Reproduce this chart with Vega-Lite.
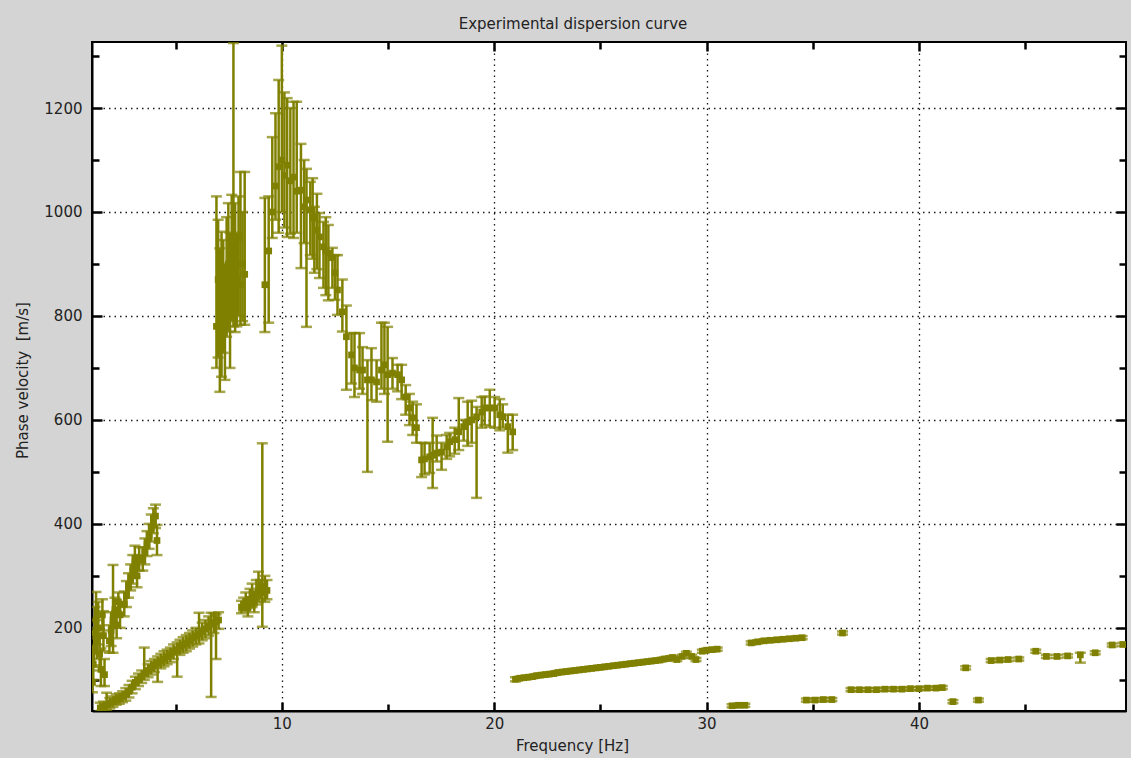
{
"$schema": "https://vega.github.io/schema/vega-lite/v6.json",
"width": 1034, "height": 669,
"autosize": {"type": "none"},
"padding": {"left": 92, "top": 42, "right": 5, "bottom": 47},
"background": "#d4d4d4",
"config": {"view": {"fill": "white", "stroke": "#000", "strokeWidth": 2}, "font": "DejaVu Sans"},
"title": {"text": "Experimental dispersion curve", "fontSize": 15, "fontWeight": "normal", "color": "#222", "offset": 9, "frame": "group", "anchor": "middle", "dx": -36},
"data": {"values": [
{"f":1.08,"v":95,"lo":76,"hi":125},{"f":1.12,"v":130,"lo":100,"hi":165},{"f":1.16,"v":160,"lo":128,"hi":200},{"f":1.2,"v":190,"lo":150,"hi":240},{"f":1.25,"v":215,"lo":180,"hi":269},{"f":1.3,"v":175,"lo":140,"hi":215},{"f":1.35,"v":200,"lo":168,"hi":250},{"f":1.42,"v":150,"lo":118,"hi":190},{"f":1.48,"v":120,"lo":88,"hi":160},{"f":1.55,"v":225,"lo":195,"hi":255},{"f":1.6,"v":185,"lo":155,"hi":232},{"f":1.65,"v":110,"lo":88,"hi":140},
{"f":1.88,"v":175,"lo":152,"hi":205},{"f":1.96,"v":195,"lo":165,"hi":230},{"f":2.05,"v":215,"lo":152,"hi":321},{"f":2.14,"v":235,"lo":210,"hi":258},{"f":2.22,"v":205,"lo":180,"hi":232},{"f":2.3,"v":250,"lo":228,"hi":268},{"f":2.38,"v":225,"lo":200,"hi":250},
{"f":2.58,"v":245,"lo":222,"hi":270},{"f":2.68,"v":262,"lo":240,"hi":290},{"f":2.78,"v":280,"lo":258,"hi":305},{"f":2.88,"v":295,"lo":272,"hi":322},{"f":2.98,"v":310,"lo":285,"hi":340},{"f":3.08,"v":322,"lo":298,"hi":358},{"f":3.18,"v":300,"lo":278,"hi":330},{"f":3.28,"v":335,"lo":310,"hi":355},
{"f":3.45,"v":330,"lo":310,"hi":355},{"f":3.55,"v":345,"lo":322,"hi":372},{"f":3.65,"v":360,"lo":338,"hi":386},{"f":3.75,"v":378,"lo":352,"hi":400},{"f":3.85,"v":392,"lo":366,"hi":418},{"f":3.95,"v":405,"lo":382,"hi":430},{"f":4.05,"v":415,"lo":392,"hi":437},{"f":4.12,"v":368,"lo":340,"hi":398},
{"f":1.45,"v":46,"lo":40,"hi":56},{"f":1.6,"v":48,"lo":40,"hi":58},{"f":1.75,"v":52,"lo":42,"hi":75},{"f":1.9,"v":55,"lo":45,"hi":65},{"f":2.05,"v":58,"lo":48,"hi":68},{"f":2.2,"v":62,"lo":52,"hi":72},{"f":2.35,"v":64,"lo":54,"hi":74},{"f":2.5,"v":68,"lo":57,"hi":78},{"f":2.65,"v":72,"lo":60,"hi":84},{"f":2.8,"v":78,"lo":66,"hi":90},{"f":2.95,"v":86,"lo":74,"hi":98},{"f":3.1,"v":95,"lo":82,"hi":106},{"f":3.25,"v":100,"lo":88,"hi":112},{"f":3.4,"v":106,"lo":94,"hi":118},{"f":3.52,"v":112,"lo":100,"hi":162},{"f":3.7,"v":118,"lo":105,"hi":130},{"f":3.85,"v":123,"lo":110,"hi":136},{"f":4.0,"v":128,"lo":115,"hi":140},{"f":4.15,"v":132,"lo":96,"hi":145},{"f":4.3,"v":136,"lo":122,"hi":150},{"f":4.45,"v":140,"lo":126,"hi":155},{"f":4.6,"v":144,"lo":130,"hi":158},{"f":4.75,"v":148,"lo":134,"hi":162},{"f":4.9,"v":154,"lo":140,"hi":168},{"f":5.07,"v":158,"lo":106,"hi":172},{"f":5.2,"v":163,"lo":148,"hi":177},{"f":5.35,"v":167,"lo":152,"hi":182},{"f":5.5,"v":170,"lo":155,"hi":186},{"f":5.65,"v":175,"lo":160,"hi":190},{"f":5.8,"v":180,"lo":164,"hi":195},{"f":5.95,"v":184,"lo":168,"hi":200},{"f":6.1,"v":188,"lo":170,"hi":229},{"f":6.25,"v":193,"lo":176,"hi":210},{"f":6.4,"v":198,"lo":180,"hi":215},{"f":6.55,"v":203,"lo":185,"hi":222},{"f":6.67,"v":207,"lo":67,"hi":229},{"f":6.8,"v":210,"lo":190,"hi":228},{"f":6.9,"v":212,"lo":140,"hi":226},{"f":7.02,"v":215,"lo":198,"hi":230},
{"f":6.92,"v":780,"lo":700,"hi":1030},{"f":7.0,"v":870,"lo":720,"hi":985},{"f":7.08,"v":750,"lo":654,"hi":930},{"f":7.16,"v":820,"lo":683,"hi":962},{"f":7.24,"v":860,"lo":729,"hi":946},{"f":7.32,"v":780,"lo":677,"hi":900},{"f":7.4,"v":880,"lo":760,"hi":990},{"f":7.48,"v":900,"lo":770,"hi":1017},{"f":7.56,"v":840,"lo":700,"hi":960},{"f":7.64,"v":940,"lo":790,"hi":1033},{"f":7.72,"v":860,"lo":780,"hi":1325},{"f":7.8,"v":920,"lo":769,"hi":1017},{"f":7.88,"v":870,"lo":780,"hi":960},{"f":7.96,"v":950,"lo":800,"hi":1030},{"f":8.05,"v":860,"lo":783,"hi":1077},{"f":8.15,"v":900,"lo":790,"hi":1000},{"f":8.25,"v":880,"lo":783,"hi":1077},
{"f":8.1,"v":240,"lo":228,"hi":252},{"f":8.2,"v":245,"lo":232,"hi":258},{"f":8.3,"v":250,"lo":235,"hi":268},{"f":8.4,"v":238,"lo":222,"hi":250},{"f":8.5,"v":255,"lo":238,"hi":275},{"f":8.6,"v":262,"lo":240,"hi":285},{"f":8.7,"v":248,"lo":230,"hi":270},{"f":8.8,"v":265,"lo":245,"hi":292},{"f":8.9,"v":270,"lo":250,"hi":308},{"f":9.0,"v":275,"lo":255,"hi":292},{"f":9.08,"v":280,"lo":202,"hi":555},{"f":9.2,"v":268,"lo":250,"hi":300},{"f":9.3,"v":272,"lo":255,"hi":292},
{"f":9.2,"v":860,"lo":769,"hi":1027},{"f":9.38,"v":925,"lo":787,"hi":1030},{"f":9.55,"v":1000,"lo":950,"hi":1144},{"f":9.7,"v":1050,"lo":985,"hi":1190},{"f":9.85,"v":1087,"lo":960,"hi":1254},{"f":10.0,"v":1100,"lo":1000,"hi":1320},{"f":10.12,"v":1070,"lo":970,"hi":1230},{"f":10.25,"v":1090,"lo":952,"hi":1219},{"f":10.4,"v":1060,"lo":958,"hi":1200},{"f":10.55,"v":1067,"lo":950,"hi":1212},{"f":10.7,"v":1040,"lo":960,"hi":1212},{"f":10.9,"v":1042,"lo":892,"hi":1131},{"f":11.05,"v":1010,"lo":940,"hi":1100},{"f":11.16,"v":1023,"lo":779,"hi":1083},{"f":11.34,"v":1004,"lo":917,"hi":1058},{"f":11.45,"v":990,"lo":910,"hi":1065},{"f":11.53,"v":988,"lo":883,"hi":1010},{"f":11.65,"v":965,"lo":890,"hi":1035},{"f":11.77,"v":952,"lo":873,"hi":998},{"f":11.96,"v":933,"lo":854,"hi":981},{"f":12.07,"v":925,"lo":840,"hi":990},{"f":12.19,"v":921,"lo":830,"hi":975},{"f":12.38,"v":912,"lo":854,"hi":931},{"f":12.5,"v":883,"lo":831,"hi":917},{"f":12.62,"v":850,"lo":802,"hi":917},{"f":12.85,"v":808,"lo":770,"hi":870},{"f":13.04,"v":760,"lo":658,"hi":820},{"f":13.28,"v":725,"lo":670,"hi":767},{"f":13.42,"v":700,"lo":644,"hi":767},{"f":13.66,"v":696,"lo":660,"hi":767},{"f":13.8,"v":696,"lo":650,"hi":740},{"f":14.03,"v":677,"lo":500,"hi":715},{"f":14.22,"v":677,"lo":638,"hi":738},{"f":14.46,"v":673,"lo":635,"hi":715},{"f":14.69,"v":696,"lo":660,"hi":787},{"f":14.83,"v":706,"lo":650,"hi":787},{"f":14.98,"v":687,"lo":558,"hi":779},{"f":15.21,"v":690,"lo":660,"hi":719},{"f":15.45,"v":687,"lo":655,"hi":706},{"f":15.64,"v":677,"lo":640,"hi":706},{"f":15.83,"v":644,"lo":610,"hi":667},{"f":16.01,"v":623,"lo":590,"hi":650},{"f":16.16,"v":604,"lo":571,"hi":635},{"f":16.34,"v":585,"lo":556,"hi":630},{"f":16.58,"v":523,"lo":490,"hi":556},{"f":16.72,"v":525,"lo":495,"hi":555},{"f":16.96,"v":529,"lo":498,"hi":556},{"f":17.1,"v":532,"lo":469,"hi":604},{"f":17.29,"v":536,"lo":520,"hi":570},{"f":17.52,"v":538,"lo":504,"hi":556},{"f":17.76,"v":548,"lo":525,"hi":571},{"f":17.9,"v":558,"lo":530,"hi":575},{"f":18.14,"v":562,"lo":535,"hi":585},{"f":18.33,"v":577,"lo":542,"hi":642},{"f":18.56,"v":587,"lo":560,"hi":600},{"f":18.75,"v":596,"lo":550,"hi":635},{"f":18.94,"v":600,"lo":556,"hi":637},{"f":19.17,"v":606,"lo":450,"hi":625},{"f":19.41,"v":615,"lo":585,"hi":644},{"f":19.55,"v":623,"lo":590,"hi":645},{"f":19.79,"v":623,"lo":587,"hi":658},{"f":20.02,"v":623,"lo":585,"hi":644},{"f":20.26,"v":610,"lo":580,"hi":640},{"f":20.4,"v":606,"lo":585,"hi":630},{"f":20.64,"v":587,"lo":537,"hi":610},{"f":20.87,"v":577,"lo":542,"hi":610},
{"f":21.0,"v":101,"lo":97,"hi":105},{"f":21.2,"v":103,"lo":100,"hi":106},{"f":21.4,"v":104,"lo":101,"hi":107},{"f":21.6,"v":105,"lo":102,"hi":108},{"f":21.8,"v":106,"lo":103,"hi":109},{"f":22.0,"v":108,"lo":105,"hi":111},{"f":22.2,"v":109,"lo":106,"hi":112},{"f":22.4,"v":110,"lo":107,"hi":113},{"f":22.6,"v":111,"lo":108,"hi":114},{"f":22.8,"v":112,"lo":109,"hi":115},{"f":23.0,"v":114,"lo":111,"hi":117},{"f":23.2,"v":115,"lo":112,"hi":118},{"f":23.4,"v":116,"lo":113,"hi":119},{"f":23.6,"v":117,"lo":114,"hi":120},{"f":23.8,"v":118,"lo":115,"hi":121},{"f":24.0,"v":119,"lo":116,"hi":122},{"f":24.2,"v":120,"lo":117,"hi":123},{"f":24.4,"v":121,"lo":118,"hi":124},{"f":24.6,"v":122,"lo":119,"hi":125},{"f":24.8,"v":123,"lo":120,"hi":126},{"f":25.0,"v":124,"lo":121,"hi":127},{"f":25.2,"v":125,"lo":122,"hi":128},{"f":25.4,"v":126,"lo":123,"hi":129},{"f":25.6,"v":127,"lo":124,"hi":130},{"f":25.8,"v":128,"lo":125,"hi":131},{"f":26.0,"v":129,"lo":126,"hi":132},{"f":26.2,"v":130,"lo":127,"hi":133},{"f":26.4,"v":131,"lo":128,"hi":134},{"f":26.6,"v":132,"lo":129,"hi":135},{"f":26.8,"v":133,"lo":130,"hi":136},{"f":27.0,"v":134,"lo":131,"hi":137},{"f":27.2,"v":135,"lo":132,"hi":138},{"f":27.4,"v":136,"lo":133,"hi":139},{"f":27.6,"v":137,"lo":134,"hi":140},{"f":27.8,"v":138,"lo":135,"hi":141},{"f":28.0,"v":140,"lo":137,"hi":143},{"f":28.2,"v":141,"lo":138,"hi":144},{"f":28.4,"v":143,"lo":140,"hi":146},
{"f":28.6,"v":139,"lo":136,"hi":142},{"f":28.85,"v":145,"lo":142,"hi":148},{"f":29.05,"v":151,"lo":148,"hi":154},{"f":29.3,"v":145,"lo":142,"hi":148},{"f":29.5,"v":139,"lo":136,"hi":142},{"f":29.8,"v":155,"lo":152,"hi":158},{"f":30.0,"v":157,"lo":154,"hi":160},{"f":30.25,"v":158,"lo":155,"hi":161},{"f":30.5,"v":159,"lo":156,"hi":162},
{"f":31.2,"v":50,"lo":47,"hi":53},{"f":31.5,"v":51,"lo":48,"hi":54},{"f":31.8,"v":51,"lo":48,"hi":54},
{"f":32.1,"v":171,"lo":168,"hi":174},{"f":32.4,"v":173,"lo":170,"hi":176},{"f":32.7,"v":175,"lo":172,"hi":178},{"f":33.0,"v":176,"lo":173,"hi":179},{"f":33.3,"v":177,"lo":174,"hi":180},{"f":33.6,"v":178,"lo":175,"hi":181},{"f":33.9,"v":179,"lo":176,"hi":182},{"f":34.2,"v":180,"lo":177,"hi":183},{"f":34.5,"v":181,"lo":178,"hi":184},
{"f":34.7,"v":61,"lo":58,"hi":64},{"f":35.1,"v":61,"lo":58,"hi":64},{"f":35.5,"v":62,"lo":59,"hi":65},{"f":35.9,"v":62,"lo":59,"hi":65},
{"f":36.4,"v":190,"lo":187,"hi":193},
{"f":36.8,"v":81,"lo":78,"hi":84},{"f":37.2,"v":81,"lo":78,"hi":84},{"f":37.6,"v":81,"lo":78,"hi":84},{"f":38.0,"v":81,"lo":78,"hi":84},{"f":38.4,"v":82,"lo":79,"hi":85},{"f":38.8,"v":82,"lo":79,"hi":85},{"f":39.2,"v":82,"lo":79,"hi":85},{"f":39.6,"v":83,"lo":80,"hi":86},{"f":40.0,"v":83,"lo":80,"hi":86},{"f":40.4,"v":84,"lo":81,"hi":87},{"f":40.8,"v":84,"lo":81,"hi":87},{"f":41.1,"v":85,"lo":82,"hi":88},
{"f":41.6,"v":58,"lo":55,"hi":61},{"f":42.2,"v":123,"lo":120,"hi":126},{"f":42.8,"v":61,"lo":58,"hi":64},
{"f":43.4,"v":137,"lo":134,"hi":140},{"f":43.8,"v":138,"lo":135,"hi":141},{"f":44.2,"v":139,"lo":136,"hi":142},{"f":44.7,"v":140,"lo":137,"hi":143},{"f":45.5,"v":155,"lo":152,"hi":158},{"f":46.0,"v":145,"lo":142,"hi":148},{"f":46.5,"v":145,"lo":142,"hi":148},{"f":47.0,"v":146,"lo":143,"hi":149},{"f":47.6,"v":148,"lo":133,"hi":152},{"f":48.3,"v":152,"lo":149,"hi":155},{"f":49.1,"v":167,"lo":164,"hi":170},{"f":49.6,"v":168,"lo":165,"hi":171}
]},
"layer": [
{"mark": {"type": "rule", "color": "#808000", "strokeWidth": 2.5, "clip": true},
 "encoding": {
  "x": {"field": "f", "type": "quantitative", "scale": {"domain": [1.06, 49.75], "nice": false, "zero": false},
   "axis": {"orient": "bottom", "values": [5,10,15,20,25,30,35,40,45], "labelExpr": "datum.value % 10 === 0 ? datum.label : ''",
    "grid": true, "gridDash": [1.5, 4], "gridColor": "#000", "gridWidth": 1.3,
    "gridOpacity": {"condition": {"test": "datum.value % 10 === 0", "value": 0.9}, "value": 0},
    "tickSize": {"condition": {"test": "datum.value % 10 === 0", "value": -9}, "value": -7},
    "tickWidth": 2.5, "tickColor": "#000", "domainColor": "#000", "domainWidth": 2,
    "labelPadding": 14, "labelFontSize": 15, "labelColor": "#222",
    "title": "Frequency [Hz]", "titleFontSize": 15, "titleFontWeight": "normal", "titleColor": "#222",
    "titleX": 480, "titleY": 27, "titleBaseline": "top", "titleAlign": "center"}},
  "y": {"field": "lo", "type": "quantitative", "scale": {"domain": [40, 1327], "nice": false, "zero": false},
   "axis": {"orient": "left", "values": [100,200,300,400,500,600,700,800,900,1000,1100,1200,1300], "labelExpr": "datum.value % 200 === 0 ? datum.label : ''",
    "format": "d",
    "grid": true, "gridDash": [1.5, 4], "gridColor": "#000", "gridWidth": 1.3,
    "gridOpacity": {"condition": {"test": "datum.value % 200 === 0", "value": 0.9}, "value": 0},
    "tickSize": {"condition": {"test": "datum.value % 200 === 0", "value": -10}, "value": -7},
    "tickWidth": 2.5, "tickColor": "#000", "domainColor": "#000", "domainWidth": 2,
    "labelPadding": 20, "labelFontSize": 15, "labelColor": "#222",
    "title": "Phase velocity\u00a0 [m/s]", "titleFontSize": 15, "titleFontWeight": "normal", "titleColor": "#222",
    "titleX": -70, "titleY": 338, "titleAngle": -90, "titleAlign": "center", "titleBaseline": "middle"}},
  "y2": {"field": "hi"}}},
{"mark": {"type": "tick", "orient": "horizontal", "color": "#808000", "thickness": 2.5, "size": 11, "clip": true},
 "encoding": {
  "x": {"field": "f", "type": "quantitative", "scale": {"domain": [1.06, 49.75], "nice": false, "zero": false}, "axis": null},
  "y": {"field": "lo", "type": "quantitative", "scale": {"domain": [40, 1327], "nice": false, "zero": false}, "axis": null}}},
{"mark": {"type": "tick", "orient": "horizontal", "color": "#808000", "thickness": 2.5, "size": 11, "clip": true},
 "encoding": {
  "x": {"field": "f", "type": "quantitative", "scale": {"domain": [1.06, 49.75], "nice": false, "zero": false}, "axis": null},
  "y": {"field": "hi", "type": "quantitative", "scale": {"domain": [40, 1327], "nice": false, "zero": false}, "axis": null}}},
{"mark": {"type": "square", "color": "#808000", "size": 45, "opacity": 1, "clip": true},
 "encoding": {
  "x": {"field": "f", "type": "quantitative", "scale": {"domain": [1.06, 49.75], "nice": false, "zero": false}, "axis": null},
  "y": {"field": "v", "type": "quantitative", "scale": {"domain": [40, 1327], "nice": false, "zero": false}, "axis": null}}},
{"mark": {"type": "point", "opacity": 0},
 "encoding": {
  "x": {"field": "f", "type": "quantitative", "scale": {"domain": [1.06, 49.75], "nice": false, "zero": false},
   "axis": {"orient": "top", "values": [5,10,15,20,25,30,35,40,45], "labels": false, "grid": false, "title": null, "domain": false,
    "tickSize": {"condition": {"test": "datum.value % 10 === 0", "value": -9}, "value": -7}, "tickWidth": 2.5, "tickColor": "#000"}},
  "y": {"field": "v", "type": "quantitative", "scale": {"domain": [40, 1327], "nice": false, "zero": false},
   "axis": {"orient": "right", "values": [100,200,300,400,500,600,700,800,900,1000,1100,1200,1300], "labels": false, "grid": false, "title": null, "domain": false,
    "tickSize": {"condition": {"test": "datum.value % 200 === 0", "value": -10}, "value": -7}, "tickWidth": 2.5, "tickColor": "#000"}}}}
],
"resolve": {"axis": {"x": "independent", "y": "independent"}}
}
